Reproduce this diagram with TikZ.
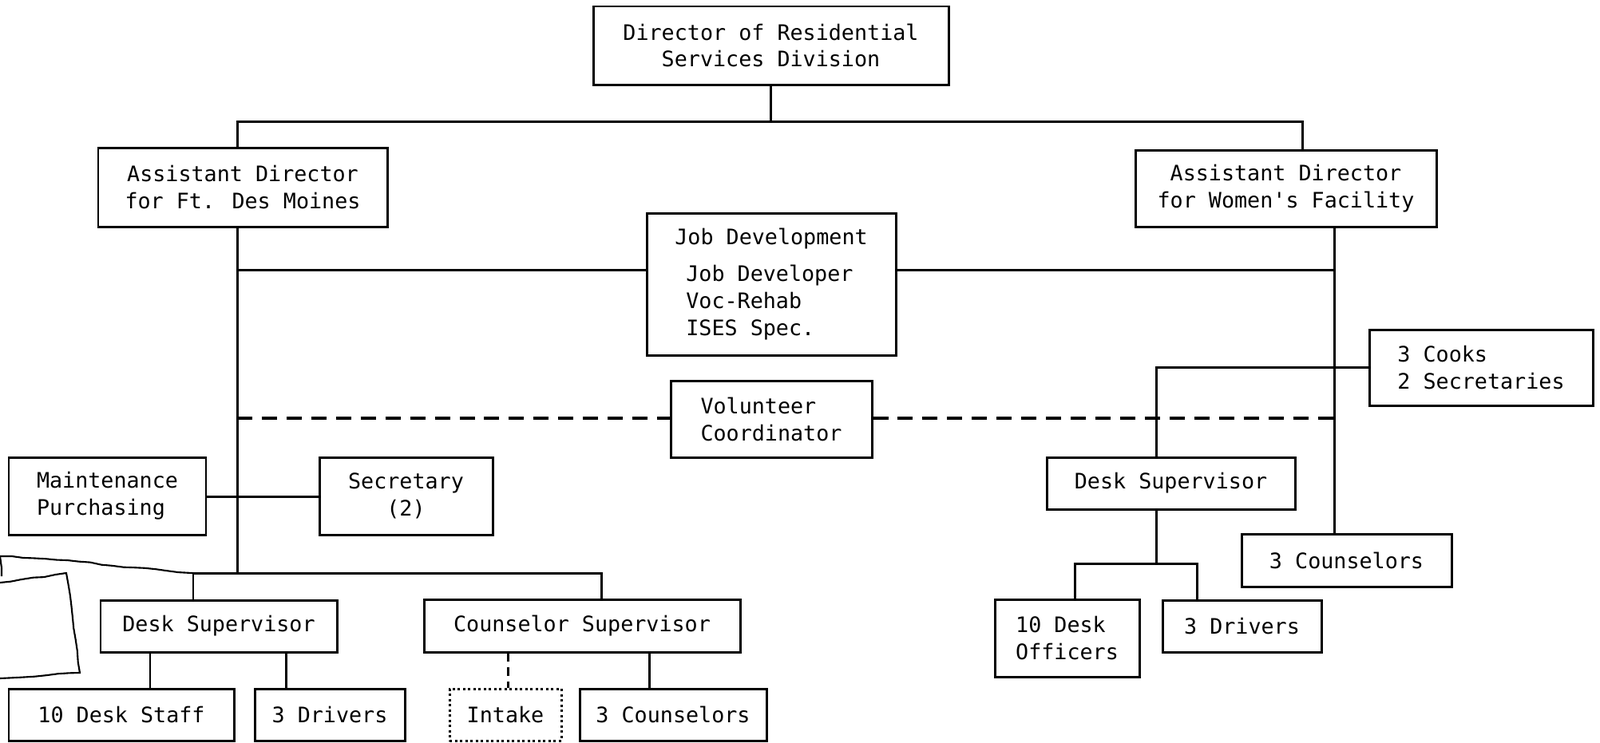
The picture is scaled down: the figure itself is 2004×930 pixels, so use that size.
\documentclass[tikz,border=0pt]{standalone}
\usepackage{fontspec}
\newfontfamily\tw{DejaVu Sans Mono}
\usetikzlibrary{decorations.pathmorphing}
\begin{document}
\begin{tikzpicture}[x=0.01cm,y=-0.01cm,
  box/.style={draw, line width=0.85pt, inner sep=0pt, align=center,
    font=\tw\fontsize{7.6}{9.64}\selectfont},
  wh/.style 2 args={minimum width=#1*0.01cm, minimum height=#2*0.01cm},
  conn/.style={line width=0.85pt},
  dconn/.style={line width=1.2pt, dash pattern=on 5.4pt off 3.4pt},
  hand/.style={line width=0.6pt, decorate, decoration={random steps, segment length=4pt, amplitude=0.3pt}}]
\useasboundingbox[fill=white] (0,0) rectangle (2004,930);

% boxes
\node[box, wh={445}{98}] (dir) at (965.5,57) {Director of Residential\\Services Division};
\node[box, wh={362}{99}] (adfdm) at (304,234.5) {Assistant Director\\for Ft. Des Moines};
\node[box, wh={377}{96}] (adwf) at (1610.5,236) {Assistant Director\\for Women\textquotesingle s Facility};
\node[box, wh={312}{178}, align=left] (job) at (966,356) {Job Development\\[0.12cm]\hspace*{0.14cm}Job Developer\\\hspace*{0.14cm}Voc-Rehab\\\hspace*{0.14cm}ISES Spec.};
\node[box, wh={252}{96}, align=left] (vol) at (966,525) {Volunteer\\Coordinator};
\node[box, wh={280}{95}, align=left] (cooks) at (1855,460.5) {3 Cooks\\2 Secretaries};
\node[box, wh={247}{97}, align=left] (maint) at (134.5,621.5) {Maintenance\\Purchasing};
\node[box, wh={217}{97}] (sec) at (508.5,621.5) {Secretary\\(2)};
\node[box, wh={296}{65}] (dsL) at (274,784.5) {Desk Supervisor};
\node[box, wh={396}{66}] (csup) at (729,784) {Counselor Supervisor};
\node[box, wh={282}{65}] (dstaff) at (152,895.5) {10 Desk Staff};
\node[box, wh={188}{65}] (drvL) at (413,895.5) {3 Drivers};
\node[box, wh={140}{65}, densely dotted] (intake) at (633,895.5) {Intake};
\node[box, wh={234}{65}] (counsL) at (843,895.5) {3 Counselors};
\node[box, wh={311}{65}] (dsR) at (1466.5,605.5) {Desk Supervisor};
\node[box, wh={181}{97}, align=left] (dofc) at (1336.5,799.5) {10 Desk\\Officers};
\node[box, wh={199}{65}] (drvR) at (1555.5,784.5) {3 Drivers};
\node[box, wh={263}{66}] (counsR) at (1686.5,702) {3 Counselors};

% coordinates
\coordinate (tL) at (297,152);
\coordinate (tR) at (1631,152);
\coordinate (bL) at (297,718);
\coordinate (jL) at (297,338);
\coordinate (tR2) at (1671,284);
\coordinate (dR) at (1448,460);
\coordinate (vL) at (297,524);
\coordinate (mS) at (297,622);
\coordinate (bb1) at (242,718);
\coordinate (bb2) at (753,718);
\coordinate (x1) at (188,840);
\coordinate (x2) at (358,840);
\coordinate (x3) at (636,840);
\coordinate (x4) at (813,840);
\coordinate (rb) at (1448,706);
\coordinate (rb1) at (1346,706);
\coordinate (rb2) at (1499,706);
\coordinate (h0) at (0,697);
\coordinate (h1) at (2,722);
\coordinate (s1) at (0,730);
\coordinate (s2) at (83,718);
\coordinate (s3) at (100,843);
\coordinate (s4) at (0,850);

% connectors
\draw[conn] (dir.south) -- (dir.south |- tL);
\draw[conn] (adfdm.north -| tL) -- (tL) -- (tR) -- (adwf.north -| tR);
\draw[conn] (adfdm.south -| tL) -- (bL);
\draw[conn] (jL) -- (job.west |- jL);
\draw[conn] (job.east |- jL) -- (jL -| tR2);
\draw[conn] (adwf.south -| tR2) -- (counsR.north -| tR2);
\draw[conn] (cooks.west |- dR) -- (dR) -- (dsR.north -| dR);
\draw[dconn] (vL) -- (vol.west |- vL);
\draw[dconn] (vol.east |- vL) -- (vL -| tR2);
\draw[conn] (maint.east |- mS) -- (sec.west |- mS);
\draw[conn] (dsL.north -| bb1) -- (bb1) -- (bb2) -- (csup.north -| bb2);
\draw[conn] (dsL.south -| x1) -- (dstaff.north -| x1);
\draw[conn] (dsL.south -| x2) -- (drvL.north -| x2);
\draw[conn, densely dashed] (csup.south -| x3) -- (intake.north -| x3);
\draw[conn] (csup.south -| x4) -- (counsL.north -| x4);
\draw[conn] (dsR.south -| rb) -- (rb);
\draw[conn] (dofc.north -| rb1) -- (rb1) -- (rb2) -- (drvR.north -| rb2);

% hand-drawn additions
\draw[hand] (h0) .. controls (80,700) and (160,712) .. (bb1);
\draw[hand] (h0) -- (h1);
\draw[hand] (s1) -- (s2) -- (s3) -- (s4);
\end{tikzpicture}
\end{document}
